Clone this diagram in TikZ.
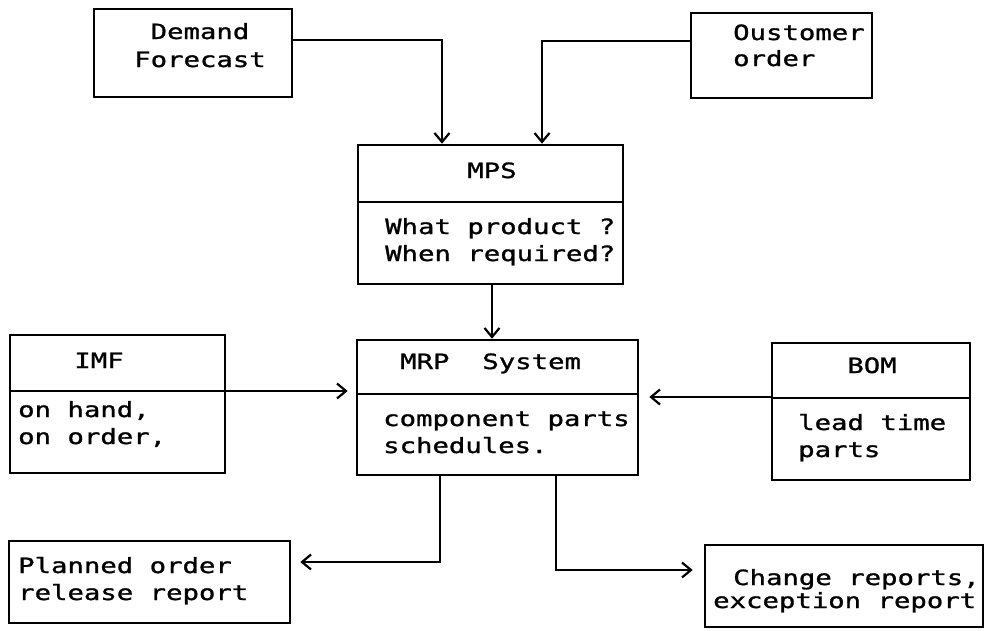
\documentclass[tikz,border=0pt]{standalone}
\usepackage{fontspec}
\setmonofont[FakeStretch=1.3,FakeBold=1.2]{DejaVu Sans Mono}
\usetikzlibrary{arrows.meta}
\tikzset{
  box/.style={draw, line width=2.6pt, rectangle, inner sep=0pt},
  divider/.style={line width=2.6pt},
  conn/.style={line width=2.6pt, -{Straight Barb[length=9pt,width=15pt,line width=2.2pt]}},
  txt/.style={font=\ttfamily\fontsize{21}{28}\selectfont, inner sep=0pt},
  lt/.style={txt, anchor=base west},
  ct/.style={txt, anchor=base},
}
\begin{document}
\begin{tikzpicture}[x={(1pt,0)}, y={(0,-1pt)}]
\useasboundingbox (0,0) rectangle (986,630);
% boxes
\node[box, minimum width=198pt, minimum height=88pt] (dem) at (193,53) {};
\node[box, minimum width=181pt, minimum height=85pt] (cus) at (781.5,55.5) {};
\node[box, minimum width=265pt, minimum height=139pt] (mps) at (490.5,214.5) {};
\node[box, minimum width=281pt, minimum height=135pt] (mrp) at (497.5,407.5) {};
\node[box, minimum width=215pt, minimum height=138pt] (imf) at (117.5,404) {};
\node[box, minimum width=198pt, minimum height=137pt] (bom) at (871,411.5) {};
\node[box, minimum width=281pt, minimum height=82pt] (plan) at (149.5,582) {};
\node[box, minimum width=278pt, minimum height=82pt] (chg) at (844,586) {};
% dividers
\draw[divider] (mps.west |- 0,202) -- (mps.east |- 0,202);
\draw[divider] (mrp.west |- 0,394) -- (mrp.east |- 0,394);
\draw[divider] (imf.west |- 0,391) -- (imf.east |- 0,391);
\draw[divider] (bom.west |- 0,398) -- (bom.east |- 0,398);
% texts
\node[ct] (t1) at (200,39) {Demand};
\node[ct] (t2) at (200,67) {Forecast};
\node[lt] (t3) at (733,40) {Oustomer};
\node[lt] (t4) at (733,66) {order};
\node[ct] (t5) at (492,178) {MPS};
\node[lt] (t6) at (385,234) {What product ?};
\node[lt] (t7) at (385,261) {When required?};
\node[lt] (t8) at (400,369) {MRP\ \ System};
\node[lt] (t9) at (383,426) {component parts};
\node[lt] (t10) at (383,453) {schedules.};
\node[ct] (t11) at (99,368) {IMF};
\node[lt] (t12) at (18,417) {on hand,};
\node[lt] (t13) at (18,444) {on order,};
\node[ct] (t14) at (872,373) {BOM};
\node[lt] (t15) at (798,430) {lead time};
\node[lt] (t16) at (798,457) {parts};
\node[lt] (t17) at (18,573) {Planned order};
\node[lt] (t18) at (18,600) {release report};
\node[lt] (t19) at (733,585) {Change reports,};
\node[lt] (t20) at (713,608) {exception report};
% connectors
\draw[conn] (dem.east |- 0,40) -| (mps.north -| 442,0);
\draw[conn] (cus.west |- 0,41) -| (mps.north -| 542,0);
\draw[conn] (mps.south -| 492,0) -- (mrp.north -| 492,0);
\draw[conn, shorten >=8pt] (imf.east |- 0,391) -- (mrp.west |- 0,391);
\draw[conn, shorten >=10pt] (bom.west |- 0,397) -- (mrp.east |- 0,397);
\draw[conn, shorten >=9pt] (mrp.south -| 440,0) |- (plan.east |- 0,562);
\draw[conn, shorten >=11pt] (mrp.south -| 556,0) |- (chg.west |- 0,570);
\end{tikzpicture}
\end{document}
